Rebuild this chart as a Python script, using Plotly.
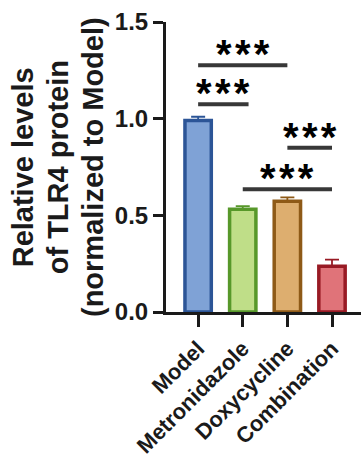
import plotly.graph_objects as go

categories = ["Model", "Metronidazole", "Doxycycline", "Combination"]
values = [0.99, 0.531, 0.573, 0.236]
errors = [0.02, 0.017, 0.02, 0.035]
fill_colors = ["#7fa2d6", "#bfde88", "#ddae6f", "#e07379"]
edge_colors = ["#2c5597", "#57982a", "#8e5a17", "#981a24"]

# significance brackets: start index, end index, height, label
sig_start = [0, 0, 2, 1]
sig_end = [2, 1.13, 3, 3]
sig_y = [1.276, 1.074, 0.850, 0.635]
sig_label = ["*\u200a*\u200a*"] * 4

title_lines = ["Relative levels", "of TLR4 protein", "(normalized to Model)"]

FONT = "Arial, Liberation Sans, sans-serif"
L, W, T, H = 166, 195, 22, 290

fig = go.Figure()
fig.add_trace(go.Bar(
    x=list(range(len(categories))),
    y=values,
    width=0.59,
    marker=dict(color=fill_colors, line=dict(color=edge_colors, width=3.5)),
    showlegend=False,
))
for i in range(len(categories)):
    fig.add_trace(go.Scatter(
        x=[i], y=[values[i]], mode="markers",
        marker=dict(size=0.1, color="rgba(0,0,0,0)"),
        error_y=dict(type="data", array=[errors[i]], arrayminus=[0],
                     symmetric=False, color=edge_colors[i], thickness=1.8, width=7),
        showlegend=False, hoverinfo="skip",
    ))

for s, e, y, lab in zip(sig_start, sig_end, sig_y, sig_label):
    fig.add_trace(go.Scatter(
        x=[s, e], y=[y, y], mode="lines",
        line=dict(color="#383838", width=4),
        showlegend=False, hoverinfo="skip",
    ))
    fig.add_annotation(
        x=(s + e) / 2, y=y, xref="x", yref="y",
        text="<b>" + lab + "</b>", showarrow=False,
        yanchor="middle", yshift=11,
        font=dict(family=FONT, size=40, color="black"),
    )

# rotated multi-line y title with tight line spacing
for px, line in zip([23.3, 58.3, 93.0], title_lines):
    fig.add_annotation(
        x=(px - L) / W, y=0.5, xref="paper", yref="paper",
        text="<b>" + line + "</b>", showarrow=False, textangle=-90,
        xanchor="center", yanchor="middle",
        font=dict(family=FONT, size=29, color="#1a1a1a"),
    )

fig.update_layout(
    width=361, height=461,
    margin=dict(l=L, r=0, t=T, b=149),
    plot_bgcolor="white", paper_bgcolor="white",
)
fig.update_xaxes(
    range=[-0.72, 3.65], automargin=False,
    tickmode="array", tickvals=list(range(len(categories))),
    ticktext=["<b>" + c + "</b>" for c in categories],
    tickangle=-45,
    showline=True, linecolor="#1a1a1a", linewidth=3,
    ticks="outside", ticklen=12, tickwidth=3, tickcolor="#1a1a1a",
    tickfont=dict(family=FONT, size=22, color="#1a1a1a"),
    showgrid=False, zeroline=False,
)
fig.update_yaxes(
    range=[0, 1.5], automargin=False,
    tickmode="array", tickvals=[0, 0.5, 1.0, 1.5],
    ticktext=["<b>0.0</b>", "<b>0.5</b>", "<b>1.0</b>", "<b>1.5</b>"],
    showline=True, linecolor="#1a1a1a", linewidth=3,
    ticks="outside", ticklen=10, tickwidth=3, tickcolor="#1a1a1a",
    tickfont=dict(family=FONT, size=24, color="#1a1a1a"),
    showgrid=False, zeroline=False,
)

fig.write_html("out.html")
